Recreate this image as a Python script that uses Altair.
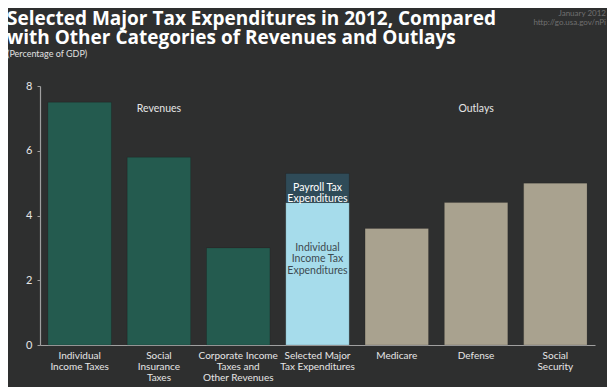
import altair as alt
import pandas as pd

title_lines = ["Selected Major Tax Expenditures in 2012, Compared",
               "with Other Categories of Revenues and Outlays"]
subtitle_text = "(Percentage of GDP)"
source_lines = ["January 2012", "http://go.usa.gov/nPi"]

categories = [
    "Individual\nIncome Taxes",
    "Social\nInsurance\nTaxes",
    "Corporate Income\nTaxes and\nOther Revenues",
    "Selected Major\nTax Expenditures",
    "Medicare",
    "Defense",
    "Social\nSecurity",
]
segments = [
    "Revenues", "Revenues", "Revenues",
    "Individual Income Tax Expenditures",
    "Outlays", "Outlays", "Outlays",
]
values = [7.5, 5.8, 3.0, 4.4, 3.6, 4.4, 5.0]
payroll_category = "Selected Major\nTax Expenditures"
payroll_value = 0.9

seg_domain = ["Revenues", "Individual Income Tax Expenditures", "Payroll Tax Expenditures", "Outlays"]
seg_colors = ["#245b4f", "#a6dceb", "#2f4b58", "#a9a28f"]

rows = [{"category": c, "segment": s, "value": v, "order": 0}
        for c, s, v in zip(categories, segments, values)]
rows.append({"category": payroll_category, "segment": "Payroll Tax Expenditures",
             "value": payroll_value, "order": 1})
df = pd.DataFrame(rows)

ind_val = values[categories.index(payroll_category)]
payroll_label = pd.DataFrame([
    {"category": payroll_category, "y": ind_val + payroll_value / 2,
     "text": "Payroll Tax\nExpenditures"}])
income_label = pd.DataFrame([
    {"category": payroll_category, "y": 3.0,
     "text": "Individual\nIncome Tax\nExpenditures"}])

group_labels = pd.DataFrame([
    {"category": categories[1], "y": 7.3, "text": "Revenues"},
    {"category": categories[5], "y": 7.3, "text": "Outlays"},
])

FONT = "Lato"
TFONT = "Open Sans"
W, H = 555, 259

x_enc = alt.X("category:N", sort=categories, title=None,
              scale=alt.Scale(paddingInner=0.2, paddingOuter=0.1),
              axis=alt.Axis(labelAngle=0, labelExpr="split(datum.label, '\\n')",
                            labelColor="#e6e6e6", labelFont=FONT, labelFontSize=10,
                            labelLineHeight=11.3, labelPadding=5, ticks=False,
                            domainColor="#a0a0a0", domainWidth=1.2))
y_enc = alt.Y("sum(value):Q", title=None,
              scale=alt.Scale(domain=[0, 8], nice=False),
              axis=alt.Axis(values=[0, 2, 4, 6, 8], grid=False, labelColor="#e6e6e6",
                            labelFont=FONT, labelFontSize=11, labelPadding=5,
                            tickSize=3, tickColor="#a0a0a0",
                            domainColor="#a0a0a0", domainWidth=1.2))

bars = alt.Chart(df).mark_bar(stroke="#00000030", strokeWidth=0.8).encode(
    x=x_enc,
    y=y_enc,
    color=alt.Color("segment:N", scale=alt.Scale(domain=seg_domain, range=seg_colors),
                    legend=None),
    order=alt.Order("order:Q"),
)

def text_layer(data, color):
    return alt.Chart(data).mark_text(
        font=FONT, fontSize=10.5, lineBreak="\n", lineHeight=11.5,
        baseline="middle", color=color
    ).encode(
        x=alt.X("category:N", sort=categories),
        y=alt.Y("y:Q"),
        text="text:N",
    )

payroll_txt = text_layer(payroll_label, "#ffffff")
income_txt = text_layer(income_label, "#3d4a50")
groups_txt = text_layer(group_labels, "#e6e6e6")

def header(text, xpos, ypos, size, color, font=FONT, weight="normal", align="left"):
    return alt.Chart(pd.DataFrame([{"t": text}])).mark_text(
        font=font, fontSize=size, fontWeight=weight, color=color,
        align=align, baseline="alphabetic"
    ).encode(x=alt.value(xpos), y=alt.value(ypos), text="t:N")

headers = [
    header(title_lines[0], -33, -61, 19, "#ffffff", TFONT, "bold"),
    header(title_lines[1], -33, -42, 19, "#ffffff", TFONT, "bold"),
    header(subtitle_text, -33, -29, 9, "#e0e0e0"),
    header(source_lines[0], W + 11, -70, 8, "#707070", align="right"),
    header(source_lines[1], W + 11, -61, 8, "#707070", align="right"),
]

chart = alt.layer(
    bars, payroll_txt, income_txt, groups_txt, *headers
).properties(
    width=W, height=H,
    autosize=alt.AutoSizeParams(type="none"),
    padding={"left": 32, "top": 78, "right": 12, "bottom": 42},
    background="#2e2f2f",
).configure_view(stroke=None)

chart.save("out.html", embed_options={"renderer": "svg", "actions": False})
